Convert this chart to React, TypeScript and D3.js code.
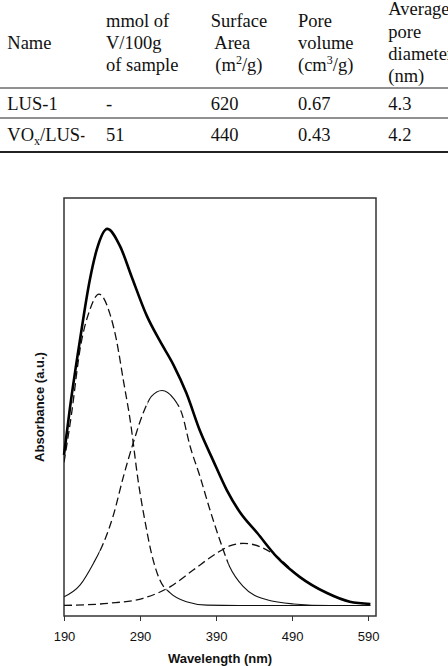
import React, { useRef, useEffect } from 'react';
import * as d3 from 'd3';

// ---- table content ----
const headerLines = [
  ['Name'],
  ['mmol of', 'V/100g', 'of sample'],
  ['Surface', ' Area', ' (m^{2}/g)'],
  ['Pore', 'volume', '(cm^{3}/g)'],
  ['Average', 'pore', 'diameter', '(nm)'],
];
const sampleNames = ['LUS-1', 'VO_{x}/LUS-1'];
const vanadium = ['-', '51'];
const surfaceArea = ['620', '440'];
const poreVolume = ['0.67', '0.43'];
const poreDiameter = ['4.3', '4.2'];

// ---- UV-vis spectrum ----
const xTicks = [190, 290, 390, 490, 590];

const sumWl = [190, 198, 211, 224, 233, 247, 264, 279, 299, 316, 334, 351, 369, 386, 404, 422, 444, 470, 500, 536, 566, 593];
const sumAbs = [0.4, 0.527, 0.705, 0.865, 0.944, 1.0, 0.953, 0.873, 0.769, 0.703, 0.639, 0.564, 0.463, 0.386, 0.307, 0.246, 0.193, 0.129, 0.076, 0.033, 0.01, 0.004];

const band1Wl = [190, 200, 211, 224, 236, 250, 259, 268, 277, 288, 297, 305, 316, 330, 351, 378, 420, 500, 593];
const band1Abs = [0.38, 0.51, 0.679, 0.785, 0.827, 0.777, 0.705, 0.599, 0.493, 0.325, 0.219, 0.139, 0.068, 0.033, 0.01, 0.001, 0, 0, 0];

const band2Wl = [190, 211, 229, 242, 255, 268, 281, 294, 305, 319, 334, 345, 356, 369, 382, 395, 408, 426, 457, 492, 540, 593];
const band2Abs = [0.023, 0.054, 0.113, 0.166, 0.24, 0.341, 0.431, 0.51, 0.555, 0.571, 0.55, 0.51, 0.422, 0.342, 0.254, 0.174, 0.103, 0.05, 0.015, 0.004, 0, 0];

const band3Wl = [190, 250, 294, 330, 360, 391, 408, 426, 448, 470, 500, 536, 566, 593];
const band3Abs = [0, 0.006, 0.019, 0.05, 0.094, 0.139, 0.158, 0.165, 0.156, 0.13, 0.076, 0.033, 0.01, 0.004];

const serif = '"Liberation Serif", "Times New Roman", serif';
const sans = '"Liberation Sans", Arial, sans-serif';

// splits "m^{2}" / "VO_{x}" into tspans
function richText(sel: any, str: string, size: number) {
  const parts = str.split(/([\^_]\{[^}]*\})/).filter(s => s.length);
  let shift = 0;
  parts.forEach(p => {
    const m = p.match(/^([\^_])\{([^}]*)\}$/);
    if (m) {
      const dy = m[1] === '^' ? -size * 0.38 : size * 0.22;
      sel.append('tspan').attr('dy', dy - shift).attr('font-size', size * 0.65).text(m[2]);
      shift = dy;
    } else {
      sel.append('tspan').attr('dy', -shift).text(p);
      shift = 0;
    }
  });
}

function App() {
  const ref = useRef<SVGSVGElement>(null);

  useEffect(() => {
    const svg = d3.select(ref.current);
    svg.selectAll('*').remove();

    //table
    const colX = [7.3, 106, 210.7, 298, 388.3];
    const fs = 18.5, lh = 22.2, headMid = 48.7;
    const tbl = svg.append('g').attr('font-family', serif).attr('font-size', fs).attr('fill', '#111');

    // first column is too narrow for the last sample name
    svg.append('clipPath').attr('id', 'firstcol')
      .append('rect').attr('x', 0).attr('y', 0).attr('width', 84.5).attr('height', 160);

    headerLines.forEach((lines, c) => {
      lines.forEach((ln, i) => {
        const t = tbl.append('text')
          .attr('x', colX[c])
          .attr('y', headMid + (i - (lines.length - 1) / 2) * lh)
          .style('white-space', 'pre');
        richText(t, ln, fs);
      });
    });

    const rowY = [110, 140.7];
    const cols = [sampleNames, vanadium, surfaceArea, poreVolume, poreDiameter];
    cols.forEach((vals, c) => {
      vals.forEach((v, r) => {
        const t = tbl.append('text').attr('x', colX[c]).attr('y', rowY[r]);
        if (c === 0) t.attr('clip-path', 'url(#firstcol)');
        richText(t, v, fs);
      });
    });

    tbl.append('line').attr('x1', 0).attr('x2', 448).attr('y1', 88).attr('y2', 88).attr('stroke', '#222').attr('stroke-width', 1);
    tbl.append('line').attr('x1', 0).attr('x2', 448).attr('y1', 118).attr('y2', 118).attr('stroke', '#222').attr('stroke-width', 1);
    tbl.append('line').attr('x1', 0).attr('x2', 448).attr('y1', 152).attr('y2', 152).attr('stroke', '#222').attr('stroke-width', 2);

    //chart dimensions
    const box = { left: 64, right: 376, top: 198, bottom: 616 };

    const x = d3.scaleLinear().domain([190, 600.5]).range([box.left, box.right]);
    const y = d3.scaleLinear().domain([-0.028, 1.082]).range([box.bottom, box.top]);

    const g = svg.append('g');

    g.append('rect')
      .attr('x', box.left).attr('y', box.top)
      .attr('width', box.right - box.left).attr('height', box.bottom - box.top)
      .attr('fill', 'none').attr('stroke', '#333').attr('stroke-width', 1.5);

    const xAxis = g.append('g')
      .attr('transform', `translate(0, ${box.bottom})`)
      .call(d3.axisBottom(x).tickValues(xTicks).tickFormat(d3.format('d')).tickSize(5).tickSizeOuter(0).tickPadding(11));
    xAxis.select('.domain').remove();
    xAxis.selectAll('line').attr('stroke', '#333');
    xAxis.selectAll('text').attr('font-family', sans).attr('font-size', 13).attr('fill', '#111');

    g.append('text')
      .attr('x', (box.left + box.right) / 2).attr('y', 663)
      .attr('text-anchor', 'middle')
      .attr('font-family', sans).attr('font-size', 13).attr('font-weight', 'bold').attr('fill', '#111')
      .text('Wavelength (nm)');

    g.append('text')
      .attr('transform', `translate(44, ${(box.top + box.bottom) / 2}) rotate(-90)`)
      .attr('text-anchor', 'middle')
      .attr('font-family', sans).attr('font-size', 13).attr('font-weight', 'bold').attr('fill', '#111')
      .text('Absorbance (a.u.)');

    //curves
    const lineGen = d3.line<[number, number]>()
      .x(d => x(d[0]))
      .y(d => y(d[1]))
      .curve(d3.curveMonotoneX);

    const zip = (a: number[], b: number[]) => a.map((v, i) => [v, b[i]] as [number, number]);

    // dash style changes along a band, as in the original plot
    const series = [
      { id: 'b1', pts: zip(band1Wl, band1Abs), segs: [[190, 325, true], [325, 601, false]] },
      { id: 'b2', pts: zip(band2Wl, band2Abs), segs: [[190, 237, false], [237, 300, true], [300, 340, false], [340, 406, true], [406, 601, false]] },
      { id: 'b3', pts: zip(band3Wl, band3Abs), segs: [[190, 601, true]] },
    ];

    series.forEach(s => {
      s.segs.forEach((seg: any, k) => {
        const cid = `clip-${s.id}-${k}`;
        svg.append('clipPath').attr('id', cid)
          .append('rect')
          .attr('x', x(seg[0])).attr('y', box.top)
          .attr('width', x(seg[1]) - x(seg[0])).attr('height', box.bottom - box.top);
        g.append('path')
          .datum(s.pts)
          .attr('clip-path', `url(#${cid})`)
          .attr('fill', 'none')
          .attr('stroke', '#111')
          .attr('stroke-width', seg[2] ? 1.3 : 1.1)
          .attr('stroke-dasharray', seg[2] ? '8,4' : null)
          .attr('d', lineGen);
      });
    });

    g.append('path')
      .datum(zip(sumWl, sumAbs))
      .attr('fill', 'none')
      .attr('stroke', '#000')
      .attr('stroke-width', 2.6)
      .attr('stroke-linejoin', 'round')
      .attr('d', lineGen);
  }, []);

  return (
    <svg ref={ref} width={448} height={666}
      style={{ position: 'absolute', left: 0, top: 0, background: '#fff' }} />
  );
}

export default App;
